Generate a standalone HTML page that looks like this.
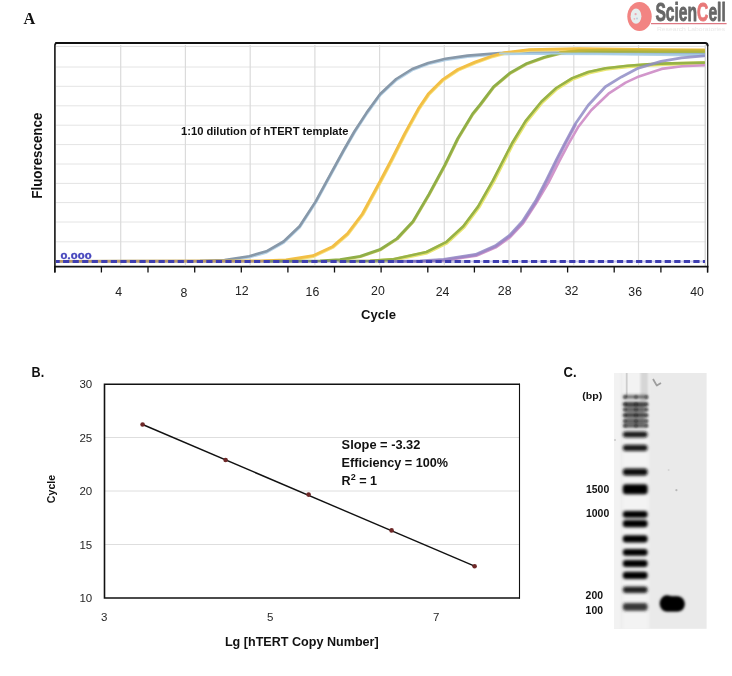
<!DOCTYPE html>
<html lang="en">
<head>
<meta charset="utf-8">
<title>hTERT qPCR standard curve</title>
<style>
html,body{margin:0;padding:0;background:#fff;}
body{width:732px;height:676px;overflow:hidden;font-family:"Liberation Sans",sans-serif;}
svg{display:block;filter:blur(0.3px);}
svg text{font-family:"Liberation Sans",sans-serif;}
.serif{font-family:"Liberation Serif",serif !important;}
</style>
</head>
<body>
<svg width="732" height="676" viewBox="0 0 732 676">
<defs>
<filter id="blur1" x="-20%" y="-50%" width="140%" height="200%"><feGaussianBlur stdDeviation="1.1"/></filter>
<filter id="blur15" x="-20%" y="-20%" width="140%" height="140%"><feGaussianBlur stdDeviation="1.35"/></filter>
<filter id="blur2" x="-20%" y="-50%" width="140%" height="200%"><feGaussianBlur stdDeviation="1.8"/></filter>
<filter id="blur3" x="-10%" y="-10%" width="120%" height="120%"><feGaussianBlur stdDeviation="0.5"/></filter>
<clipPath id="clipA"><rect x="56" y="44" width="649" height="218.7"/></clipPath>
<clipPath id="clipGel"><rect x="614" y="373" width="92.6" height="255.8"/></clipPath>
</defs>
<rect width="732" height="676" fill="#fff"/>

<!-- ===== Panel A ===== -->
<text class="serif" x="23.5" y="23.8" font-size="16.3" font-weight="bold" fill="#111">A</text>
<g>
<line x1="56" y1="67" x2="706" y2="67" stroke="#e4e4e4" stroke-width="1"/><line x1="56" y1="86.3" x2="706" y2="86.3" stroke="#e4e4e4" stroke-width="1"/><line x1="56" y1="105.8" x2="706" y2="105.8" stroke="#e4e4e4" stroke-width="1"/><line x1="56" y1="125.2" x2="706" y2="125.2" stroke="#e4e4e4" stroke-width="1"/><line x1="56" y1="144.6" x2="706" y2="144.6" stroke="#e4e4e4" stroke-width="1"/><line x1="56" y1="164" x2="706" y2="164" stroke="#e4e4e4" stroke-width="1"/><line x1="56" y1="183.4" x2="706" y2="183.4" stroke="#e4e4e4" stroke-width="1"/><line x1="56" y1="202.6" x2="706" y2="202.6" stroke="#e4e4e4" stroke-width="1"/><line x1="56" y1="222" x2="706" y2="222" stroke="#e4e4e4" stroke-width="1"/><line x1="56" y1="241.8" x2="706" y2="241.8" stroke="#e4e4e4" stroke-width="1"/><line x1="120.7" y1="45" x2="120.7" y2="265" stroke="#dbdbdb" stroke-width="1.2"/><line x1="185.4" y1="45" x2="185.4" y2="265" stroke="#dbdbdb" stroke-width="1.2"/><line x1="250.2" y1="45" x2="250.2" y2="265" stroke="#dbdbdb" stroke-width="1.2"/><line x1="314.9" y1="45" x2="314.9" y2="265" stroke="#dbdbdb" stroke-width="1.2"/><line x1="379.6" y1="45" x2="379.6" y2="265" stroke="#dbdbdb" stroke-width="1.2"/><line x1="444.3" y1="45" x2="444.3" y2="265" stroke="#dbdbdb" stroke-width="1.2"/><line x1="509.0" y1="45" x2="509.0" y2="265" stroke="#dbdbdb" stroke-width="1.2"/><line x1="573.8" y1="45" x2="573.8" y2="265" stroke="#dbdbdb" stroke-width="1.2"/><line x1="638.5" y1="45" x2="638.5" y2="265" stroke="#dbdbdb" stroke-width="1.2"/>
<line x1="705.2" y1="45" x2="705.2" y2="266" stroke="#d0d0d0" stroke-width="1.2"/>
</g>
<g clip-path="url(#clipA)" filter="url(#blur3)">
<polyline points="56.0,262.3 200.0,261.7 224.6,260.9 249.2,257.1 266.4,252.2 283.6,242.4 299.6,227.1 315.6,202.5 330.3,175.5 343.8,150.9 354.4,132.4 366.7,113.5 380.2,94.9 396.2,79.9 412.2,69.9 428.2,63.9 445.4,59.7 467.5,56.5 500.0,53.9 530.0,53.4 600.0,53.7 660.0,54.4 704.0,55.2" fill="none" stroke="#b7d3e8" stroke-width="3.0" stroke-linejoin="round" stroke-linecap="round" opacity="1"/><polyline points="56.0,261.4 200.0,260.8 224.6,260.0 249.2,256.2 266.4,251.3 283.6,241.5 299.6,226.2 315.6,201.6 330.3,174.6 343.8,150.0 354.4,131.5 366.7,112.6 380.2,94.0 396.2,79.0 412.2,69.0 428.2,63.0 445.4,58.8 467.5,55.6 500.0,53.0 530.0,52.5 600.0,52.8 660.0,53.5 704.0,54.3" fill="none" stroke="#8798a9" stroke-width="2.6" stroke-linejoin="round" stroke-linecap="round" opacity="1"/><polyline points="56.5,262.1 260.5,261.5 286.5,260.7 313.5,256.4 333.3,247.1 348.0,234.3 362.8,214.7 380.2,182.7 391.8,160.7 405.3,134.1 418.8,109.5 428.7,94.8 443.5,80.0 458.2,70.2 475.4,62.8 492.6,56.7 505.1,53.3 529.7,50.3 578.5,49.3 660.5,50.3 704.5,50.5" fill="none" stroke="#f7e07a" stroke-width="3.0" stroke-linejoin="round" stroke-linecap="round" opacity="1"/><polyline points="56.0,261.4 260.0,260.8 286.0,260.0 313.0,255.7 332.8,246.4 347.5,233.6 362.3,214.0 379.7,182.0 391.3,160.0 404.8,133.4 418.3,108.8 428.2,94.1 443.0,79.3 457.7,69.5 474.9,62.1 492.1,56.0 504.6,52.6 529.2,49.6 578.0,48.6 660.0,49.6 704.0,49.8" fill="none" stroke="#f2bf45" stroke-width="2.8" stroke-linejoin="round" stroke-linecap="round" opacity="1"/><polyline points="270.5,262.0 320.5,261.4 340.5,260.1 360.5,256.8 380.2,250.2 397.4,239.1 413.4,221.9 429.3,194.9 445.3,165.4 458.2,139.0 473.0,114.4 480.5,105.2 494.0,87.3 510.0,73.8 527.2,64.0 544.4,57.8 561.6,53.4 578.9,51.6 603.5,51.2 660.5,51.8 704.5,51.8" fill="none" stroke="#bcc056" stroke-width="2.4" stroke-linejoin="round" stroke-linecap="round" opacity="1"/><polyline points="270.0,261.4 320.0,260.8 340.0,259.5 360.0,256.2 379.7,249.6 396.9,238.5 412.9,221.3 428.8,194.3 444.8,164.8 457.7,138.4 472.5,113.8 480.0,104.6 493.5,86.7 509.5,73.2 526.7,63.4 543.9,57.2 561.1,52.8 578.4,51.0 603.0,50.6 660.0,51.2 704.0,51.2" fill="none" stroke="#8fae46" stroke-width="2.6" stroke-linejoin="round" stroke-linecap="round" opacity="1"/><polyline points="560.0,52.6 578.4,50.6 603.0,50.0 660.0,50.4 704.0,50.4" fill="none" stroke="#c9b63a" stroke-width="2.6" stroke-linejoin="round" stroke-linecap="round" opacity="0.85"/><polyline points="500.0,53.6 560.0,53.6 620.0,54.0 704.0,54.6" fill="none" stroke="#a9cfe8" stroke-width="2.0" stroke-linejoin="round" stroke-linecap="round" opacity="0.9"/><polyline points="340.6,262.0 370.6,261.4 392.6,260.0 427.0,252.6 446.6,242.8 463.9,226.8 478.6,207.2 493.4,181.3 504.0,160.6 512.6,143.9 526.1,121.7 542.1,102.1 556.8,88.6 572.8,78.7 588.8,72.6 606.0,68.9 628.1,66.4 647.8,65.0 661.6,64.2 704.6,63.2" fill="none" stroke="#e9e672" stroke-width="3.8" stroke-linejoin="round" stroke-linecap="round" opacity="1"/><polyline points="340.0,261.4 370.0,260.8 392.0,259.4 426.4,252.0 446.0,242.2 463.3,226.2 478.0,206.6 492.8,180.7 503.4,160.0 512.0,143.3 525.5,121.1 541.5,101.5 556.2,88.0 572.2,78.1 588.2,72.0 605.4,68.3 627.5,65.8 647.2,64.4 661.0,63.6 704.0,62.6" fill="none" stroke="#97b247" stroke-width="2.6" stroke-linejoin="round" stroke-linecap="round" opacity="1"/><polyline points="395.6,262.2 420.6,261.6 444.2,260.4 476.2,255.8 495.8,247.4 510.1,237.2 523.1,223.4 536.1,203.4 548.6,182.3 559.2,161.3 568.2,144.3 578.0,127.3 591.2,110.3 608.5,93.7 625.6,82.6 639.0,76.4 661.6,68.9 682.1,66.2 704.6,65.2" fill="none" stroke="#d296cb" stroke-width="2.6" stroke-linejoin="round" stroke-linecap="round" opacity="1"/><polyline points="395.0,261.4 420.0,260.8 443.6,259.4 475.6,254.5 495.2,245.9 509.5,235.4 522.5,221.2 535.5,201.1 546.5,179.8 556.2,160.0 564.8,143.3 574.7,124.8 588.2,105.2 605.4,86.7 621.4,76.9 638.4,68.1 661.0,61.3 681.5,57.9 704.0,55.8" fill="none" stroke="#8f8cc6" stroke-width="2.8" stroke-linejoin="round" stroke-linecap="round" opacity="0.85"/><polyline points="395.8,261.8 420.8,261.2 444.4,259.8 476.4,254.9 496.0,246.3 510.3,235.8 523.3,221.6 536.3,201.5 547.3,180.2 557.0,160.4 565.6,143.7 575.5,125.2" fill="none" stroke="#9c84c4" stroke-width="2.6" stroke-linejoin="round" stroke-linecap="round" opacity="0.7"/>
</g>
<line x1="470" y1="261.5" x2="705" y2="261.5" stroke="#b9b9e6" stroke-width="2.2" opacity="0.7"/>
<line x1="56" y1="261.5" x2="470" y2="261.5" stroke="#5a5aa8" stroke-width="2.9" opacity="0.35"/>
<line x1="56" y1="261.5" x2="705" y2="261.5" stroke="#3e3eb0" stroke-width="2.9" stroke-dasharray="6.2 3.35" stroke-dashoffset="2.5"/>
<text x="60.4" y="258.5" font-size="8.8" font-weight="bold" fill="#4646bd" stroke="#4646bd" stroke-width="0.3" textLength="31.2" lengthAdjust="spacingAndGlyphs">0.000</text>
<line x1="56" y1="46.4" x2="706" y2="46.4" stroke="#dedede" stroke-width="1"/>
<path d="M54.9 272.5 V45.5 Q54.9 43 57.4 43" fill="none" stroke="#151515" stroke-width="1.6"/>
<path d="M56 42.9 H705.2 Q707.6 42.9 707.6 45.6" fill="none" stroke="#101010" stroke-width="2" stroke-linecap="round"/>
<path d="M707.7 45 V272.5" fill="none" stroke="#151515" stroke-width="1.2"/>
<line x1="54.4" y1="266.6" x2="708.4" y2="266.6" stroke="#111" stroke-width="1.7"/>
<line x1="54.8" y1="266" x2="54.8" y2="272.5" stroke="#111" stroke-width="1.3"/><line x1="101.4" y1="266" x2="101.4" y2="272.5" stroke="#111" stroke-width="1.3"/><line x1="148.0" y1="266" x2="148.0" y2="272.5" stroke="#111" stroke-width="1.3"/><line x1="194.7" y1="266" x2="194.7" y2="272.5" stroke="#111" stroke-width="1.3"/><line x1="241.3" y1="266" x2="241.3" y2="272.5" stroke="#111" stroke-width="1.3"/><line x1="287.9" y1="266" x2="287.9" y2="272.5" stroke="#111" stroke-width="1.3"/><line x1="334.5" y1="266" x2="334.5" y2="272.5" stroke="#111" stroke-width="1.3"/><line x1="381.1" y1="266" x2="381.1" y2="272.5" stroke="#111" stroke-width="1.3"/><line x1="427.8" y1="266" x2="427.8" y2="272.5" stroke="#111" stroke-width="1.3"/><line x1="474.4" y1="266" x2="474.4" y2="272.5" stroke="#111" stroke-width="1.3"/><line x1="521.0" y1="266" x2="521.0" y2="272.5" stroke="#111" stroke-width="1.3"/><line x1="567.6" y1="266" x2="567.6" y2="272.5" stroke="#111" stroke-width="1.3"/><line x1="614.2" y1="266" x2="614.2" y2="272.5" stroke="#111" stroke-width="1.3"/><line x1="660.9" y1="266" x2="660.9" y2="272.5" stroke="#111" stroke-width="1.3"/><line x1="707.5" y1="266" x2="707.5" y2="272.5" stroke="#111" stroke-width="1.3"/>
<text x="118.7" y="295.7" text-anchor="middle" font-size="12.3" fill="#222">4</text><text x="183.8" y="297.1" text-anchor="middle" font-size="12.3" fill="#222">8</text><text x="241.8" y="295.2" text-anchor="middle" font-size="12.3" fill="#222">12</text><text x="312.4" y="296.1" text-anchor="middle" font-size="12.3" fill="#222">16</text><text x="377.9" y="295.2" text-anchor="middle" font-size="12.3" fill="#222">20</text><text x="442.5" y="295.7" text-anchor="middle" font-size="12.3" fill="#222">24</text><text x="504.7" y="294.7" text-anchor="middle" font-size="12.3" fill="#222">28</text><text x="571.6" y="294.7" text-anchor="middle" font-size="12.3" fill="#222">32</text><text x="635.2" y="296.1" text-anchor="middle" font-size="12.3" fill="#222">36</text><text x="697" y="296.1" text-anchor="middle" font-size="12.3" fill="#222">40</text>
<text x="378.5" y="319" text-anchor="middle" font-size="13.1" font-weight="bold" fill="#111">Cycle</text>
<text transform="translate(41.8 155.7) rotate(-90)" text-anchor="middle" font-size="13.8" font-weight="bold" fill="#111" textLength="86" lengthAdjust="spacingAndGlyphs">Fluorescence</text>
<text x="181" y="135" font-size="11.2" font-weight="bold" fill="#111" textLength="167.5" lengthAdjust="spacingAndGlyphs">1:10 dilution of hTERT template</text>

<!-- ===== Logo ===== -->
<g>
<ellipse cx="639.5" cy="16.4" rx="12.2" ry="14.5" fill="#f28482"/>
<ellipse cx="636" cy="16.2" rx="5.4" ry="7.6" fill="#e6eeee" filter="url(#blur3)"/>
<circle cx="635.6" cy="14.2" r="1.1" fill="#e9a9b4"/>
<circle cx="637" cy="18.4" r="1.0" fill="#b9cfe0"/>
<circle cx="634.4" cy="18.8" r="0.9" fill="#e9b3bb"/>
<line x1="651" y1="23.6" x2="726.6" y2="23.6" stroke="#dd7883" stroke-width="1.4"/>
<text x="655.4" y="20.8" font-size="25.9" font-weight="bold" fill="#676767" stroke="#676767" stroke-width="0.9" stroke-linejoin="round" textLength="70.4" lengthAdjust="spacingAndGlyphs">Scien<tspan fill="#e87878" stroke="#e87878">C</tspan>ell</text>
<text x="657" y="31.4" font-size="5.2" fill="#e9e9e9" textLength="68" lengthAdjust="spacingAndGlyphs">Research Laboratories</text>
</g>

<!-- ===== Panel B ===== -->
<text x="31.6" y="376.5" font-size="14" font-weight="bold" fill="#111" textLength="12.6" lengthAdjust="spacingAndGlyphs">B.</text>
<line x1="105" y1="437.5" x2="519" y2="437.5" stroke="#dedede" stroke-width="1"/><line x1="105" y1="491.0" x2="519" y2="491.0" stroke="#dedede" stroke-width="1"/><line x1="105" y1="544.5" x2="519" y2="544.5" stroke="#dedede" stroke-width="1"/>
<path d="M519.5 384.3 H104.5 V598 H519.5" fill="none" stroke="#111" stroke-width="1.6"/>
<line x1="519.5" y1="383.5" x2="519.5" y2="598.8" stroke="#111" stroke-width="1.1"/>
<line x1="142.6" y1="424.5" x2="474.6" y2="566.2" stroke="#111" stroke-width="1.4"/>
<circle cx="142.6" cy="424.5" r="2.3" fill="#6e2828"/><circle cx="225.6" cy="460" r="2.3" fill="#6e2828"/><circle cx="308.6" cy="494.6" r="2.3" fill="#6e2828"/><circle cx="391.6" cy="530.4" r="2.3" fill="#6e2828"/><circle cx="474.6" cy="566.2" r="2.3" fill="#6e2828"/>
<text x="92.2" y="388.3" text-anchor="end" font-size="11.5" fill="#262626">30</text><text x="92.2" y="441.8" text-anchor="end" font-size="11.5" fill="#262626">25</text><text x="92.2" y="495.3" text-anchor="end" font-size="11.5" fill="#262626">20</text><text x="92.2" y="548.8" text-anchor="end" font-size="11.5" fill="#262626">15</text><text x="92.2" y="602.3" text-anchor="end" font-size="11.5" fill="#262626">10</text>
<text x="104.2" y="621.2" text-anchor="middle" font-size="11.5" fill="#262626">3</text><text x="270.2" y="621.2" text-anchor="middle" font-size="11.5" fill="#262626">5</text><text x="436.2" y="621.2" text-anchor="middle" font-size="11.5" fill="#262626">7</text>
<text transform="translate(55 489) rotate(-90)" text-anchor="middle" font-size="10.6" font-weight="bold" fill="#111">Cycle</text>
<text x="341.6" y="448.7" font-size="12.6" font-weight="bold" fill="#111" textLength="78.8" lengthAdjust="spacingAndGlyphs">Slope = -3.32</text>
<text x="341.6" y="466.9" font-size="12.6" font-weight="bold" fill="#111" textLength="106.5" lengthAdjust="spacingAndGlyphs">Efficiency = 100%</text>
<text x="341.6" y="484.6" font-size="12.6" font-weight="bold" fill="#111">R<tspan font-size="9" dy="-4.2">2</tspan><tspan dy="4.2"> = 1</tspan></text>
<text x="224.9" y="646.2" font-size="12.6" font-weight="bold" fill="#111" textLength="153.8" lengthAdjust="spacingAndGlyphs">Lg [hTERT Copy Number]</text>

<!-- ===== Panel C ===== -->
<text x="563.6" y="376.6" font-size="14.6" font-weight="bold" fill="#111" textLength="13" lengthAdjust="spacingAndGlyphs">C.</text>
<rect x="614" y="373" width="92.6" height="255.8" fill="#eaeaea"/>
<g clip-path="url(#clipGel)">
<rect x="612" y="371" width="9" height="260" fill="#f2f2f2" filter="url(#blur1)"/>
<rect x="622" y="371" width="27" height="262" fill="#f3f3f3" filter="url(#blur2)"/>
<rect x="625.8" y="371" width="1.8" height="26" fill="#cdcdcd" filter="url(#blur3)"/>
<rect x="640.5" y="371" width="7.5" height="30" fill="#d6d6d6" filter="url(#blur1)"/>
<rect x="626" y="403" width="19" height="23" fill="#444" opacity="0.42" filter="url(#blur2)"/>
<g filter="url(#blur15)"><rect x="622.8" y="395.0" width="24.8" height="3.8" rx="1.9" fill="#3a3a3a" opacity="0.72"/><rect x="622.8" y="402.2" width="24.8" height="4.0" rx="2.0" fill="#1a1a1a" opacity="0.85"/><rect x="622.8" y="407.9" width="24.8" height="3.4" rx="1.7" fill="#2a2a2a" opacity="0.7"/><rect x="622.8" y="413.3" width="24.8" height="3.8" rx="1.9" fill="#222" opacity="0.8"/><rect x="622.8" y="419.3" width="24.8" height="3.4" rx="1.7" fill="#2a2a2a" opacity="0.7"/><rect x="622.8" y="424.0" width="24.8" height="3.6" rx="1.8" fill="#2a2a2a" opacity="0.78"/><rect x="622.8" y="431.4" width="24.8" height="6.0" rx="3.0" fill="#111" opacity="0.95"/><rect x="622.8" y="444.8" width="24.8" height="6.2" rx="3.0" fill="#111" opacity="0.95"/><rect x="622.8" y="468.4" width="24.8" height="7.0" rx="3.0" fill="#0c0c0c" opacity="1.0"/><rect x="622.8" y="484.2" width="24.8" height="10.0" rx="3.0" fill="#000" opacity="1.0"/><rect x="622.8" y="511.0" width="24.8" height="6.8" rx="3.0" fill="#000" opacity="1.0"/><rect x="622.8" y="520.0" width="24.8" height="7.2" rx="3.0" fill="#000" opacity="1.0"/><rect x="622.8" y="535.3" width="24.8" height="7.2" rx="3.0" fill="#000" opacity="1.0"/><rect x="622.8" y="548.9" width="24.8" height="6.8" rx="3.0" fill="#000" opacity="1.0"/><rect x="622.8" y="559.9" width="24.8" height="7.2" rx="3.0" fill="#000" opacity="1.0"/><rect x="622.8" y="571.8" width="24.8" height="7.2" rx="3.0" fill="#000" opacity="1.0"/><rect x="622.8" y="586.5" width="24.8" height="6.6" rx="3.0" fill="#161616" opacity="0.95"/><rect x="622.8" y="602.9" width="24.8" height="7.8" rx="3.0" fill="#222" opacity="0.9"/></g>
<g filter="url(#blur1)"><circle cx="625.2" cy="396.9" r="1.5" fill="#111" opacity="0.75"/><circle cx="646.6" cy="396.9" r="1.5" fill="#111" opacity="0.75"/><circle cx="636" cy="396.9" r="1.5" fill="#111" opacity="0.75"/><circle cx="625.2" cy="404.2" r="1.5" fill="#111" opacity="0.75"/><circle cx="646.6" cy="404.2" r="1.5" fill="#111" opacity="0.75"/><circle cx="636" cy="404.2" r="1.5" fill="#111" opacity="0.75"/><circle cx="625.2" cy="409.6" r="1.5" fill="#111" opacity="0.75"/><circle cx="646.6" cy="409.6" r="1.5" fill="#111" opacity="0.75"/><circle cx="636" cy="409.6" r="1.5" fill="#111" opacity="0.75"/><circle cx="625.2" cy="415.2" r="1.5" fill="#111" opacity="0.75"/><circle cx="646.6" cy="415.2" r="1.5" fill="#111" opacity="0.75"/><circle cx="636" cy="415.2" r="1.5" fill="#111" opacity="0.75"/><circle cx="625.2" cy="421" r="1.5" fill="#111" opacity="0.75"/><circle cx="646.6" cy="421" r="1.5" fill="#111" opacity="0.75"/><circle cx="636" cy="421" r="1.5" fill="#111" opacity="0.75"/><circle cx="625.2" cy="425.8" r="1.5" fill="#111" opacity="0.75"/><circle cx="646.6" cy="425.8" r="1.5" fill="#111" opacity="0.75"/><circle cx="636" cy="425.8" r="1.5" fill="#111" opacity="0.75"/></g>
<g filter="url(#blur2)">
<rect x="660.4" y="596.6" width="24" height="14.6" rx="7" fill="#000"/>
<ellipse cx="667" cy="603.4" rx="6.8" ry="7.8" fill="#000"/>
</g>
<g filter="url(#blur15)">
<rect x="661.4" y="597.6" width="22" height="12.6" rx="6" fill="#000"/>
<ellipse cx="667" cy="603.4" rx="6" ry="6.8" fill="#000"/>
<ellipse cx="678" cy="604.2" rx="5.4" ry="6" fill="#000"/>
</g>
<path d="M653 379 L656.8 385.6 L661 383" fill="none" stroke="#9e9e9e" stroke-width="1.8" stroke-linejoin="round" filter="url(#blur3)"/>
<circle cx="676.4" cy="490.2" r="1.1" fill="#b8b8b8" filter="url(#blur3)"/>
<circle cx="668.6" cy="470" r="1" fill="#d4d4d4" filter="url(#blur3)"/>
<circle cx="615" cy="440" r="1" fill="#c8c8c8" filter="url(#blur3)"/>
</g>
<text x="582.3" y="398.6" font-size="9.6" font-weight="bold" fill="#111" textLength="20" lengthAdjust="spacingAndGlyphs">(bp)</text>
<text x="586" y="493" font-size="10.4" font-weight="bold" fill="#111" textLength="23.2" lengthAdjust="spacingAndGlyphs">1500</text>
<text x="586" y="517" font-size="10.4" font-weight="bold" fill="#111" textLength="23.2" lengthAdjust="spacingAndGlyphs">1000</text>
<text x="585.6" y="599.4" font-size="10.4" font-weight="bold" fill="#111" textLength="17.4" lengthAdjust="spacingAndGlyphs">200</text>
<text x="585.6" y="613.6" font-size="10.4" font-weight="bold" fill="#111" textLength="17.4" lengthAdjust="spacingAndGlyphs">100</text>
</svg>
</body>
</html>
